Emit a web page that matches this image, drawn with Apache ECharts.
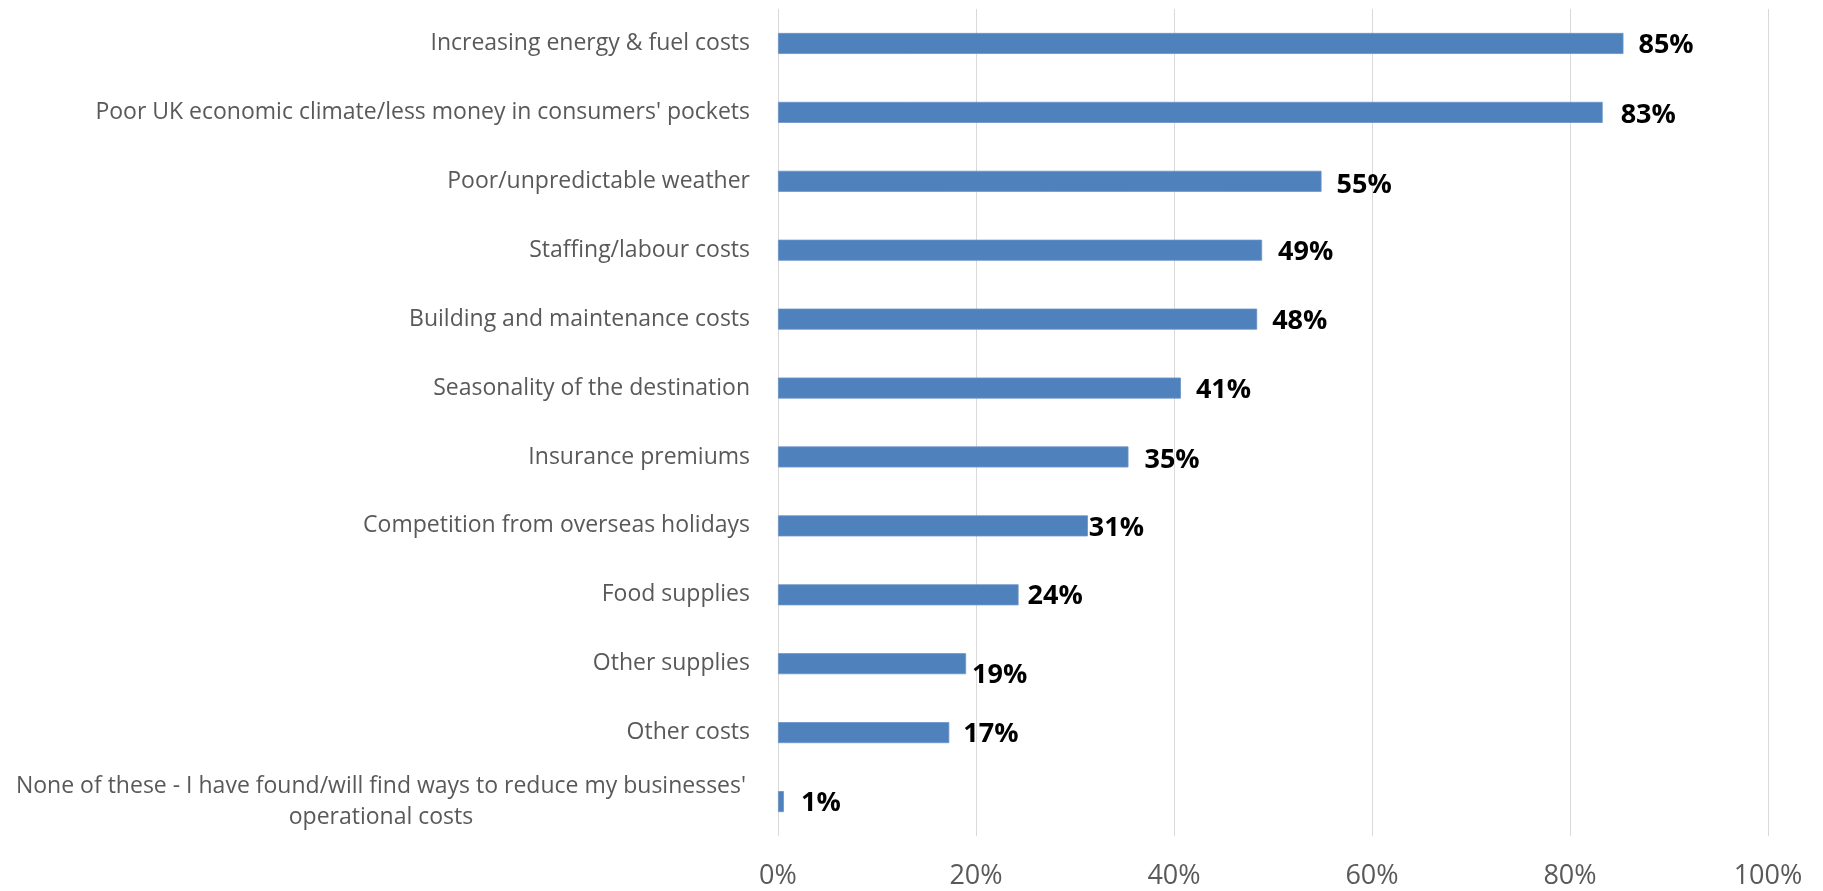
<!DOCTYPE html>
<html>
<head>
<meta charset="utf-8">
<script src="https://cdn.jsdelivr.net/npm/echarts@6/dist/echarts.min.js"></script>
<style>
html,body{margin:0;padding:0;background:#fff;}
#chart{width:1823px;height:891px;}
</style>
</head>
<body>
<div id="chart"></div>
<script>
const categories = [
  "Increasing energy & fuel costs",
  "Poor UK economic climate/less money in consumers' pockets",
  "Poor/unpredictable weather",
  "Staffing/labour costs",
  "Building and maintenance costs",
  "Seasonality of the destination",
  "Insurance premiums",
  "Competition from overseas holidays",
  "Food supplies",
  "Other supplies",
  "Other costs",
  "None of these - I have found/will find ways to reduce my businesses'\noperational costs"
];
const values = [85.4, 83.3, 54.9, 48.9, 48.4, 40.7, 35.4, 31.3, 24.3, 19.0, 17.3, 0.6];
const labelTexts = ["85%", "83%", "55%", "49%", "48%", "41%", "35%", "31%", "24%", "19%", "17%", "1%"];
const tickValues = [0, 20, 40, 60, 80, 100];

// per-bar label placement tweaks (Excel-like irregular placement)
const labelDistance = [15, 18, 15, 16, 15, 15, 16, 1, 9, 6, 14, 17];
const labelDy = [2, 3, 4, 2, 2, 2, 3, 2, 2, 12, 2, 2];

const chart = echarts.init(document.getElementById('chart'));
const font = "'Open Sans', 'Noto Sans', sans-serif";

chart.setOption({
  animation: false,
  backgroundColor: '#ffffff',
  grid: { left: 778, right: 55, top: 9, bottom: 55, containLabel: false },
  xAxis: {
    type: 'value',
    min: 0, max: 100, interval: 20,
    axisLine: { show: false },
    axisTick: { show: false },
    splitLine: { show: true, lineStyle: { color: '#d9d9d9', width: 1 } },
    axisLabel: {
      color: '#595959', fontFamily: font, fontSize: 27, margin: 27,
      formatter: v => v + '%'
    }
  },
  yAxis: {
    type: 'category',
    inverse: true,
    data: categories,
    axisLine: { show: false },
    axisTick: { show: false },
    axisLabel: {
      color: '#595959', fontFamily: font, fontSize: 23, margin: 28, align: 'right',
      lineHeight: 31,
      formatter: function (v) {
        if (v.indexOf('\n') >= 0) {
          return v.split('\n').map(s => '{c|' + s + '}').join('\n');
        }
        return v;
      },
      rich: {
        c: { width: 738, align: 'center', color: '#595959', fontFamily: font, fontSize: 23, lineHeight: 31 }
      }
    }
  },
  series: [{
    type: 'bar',
    barWidth: 21,
    data: values.map((v, i) => ({
      value: v,
      label: { distance: labelDistance[i], offset: [0, labelDy[i]] }
    })),
    itemStyle: { color: '#4f81bd', borderColor: '#6a93c8', borderWidth: 0.8 },
    label: {
      show: true, position: 'right',
      color: '#000', fontFamily: font, fontWeight: 'bold', fontSize: 27,
      formatter: p => labelTexts[p.dataIndex]
    }
  }]
});
</script>
</body>
</html>
